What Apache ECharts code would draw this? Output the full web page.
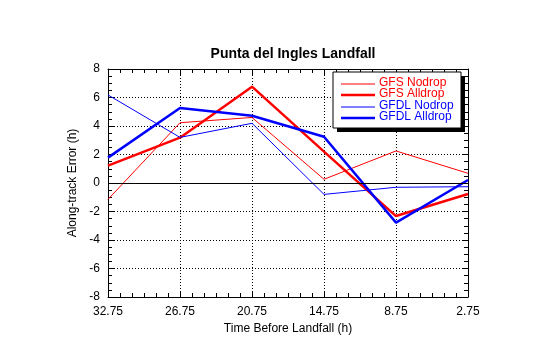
<!DOCTYPE html>
<html><head><meta charset="utf-8">
<script src="https://cdn.jsdelivr.net/npm/echarts@6/dist/echarts.min.js"></script>
<style>html,body{margin:0;padding:0;background:#fff}#c{width:540px;height:344px}</style>
</head><body><div id="c"></div>
<script>
var times = [32.75, 26.75, 20.75, 14.75, 8.75, 2.75];
var gfsNodrop = [-1.15, 4.23, 4.6, 0.26, 2.25, 0.68];
var gfsAlldrop = [1.22, 3.18, 6.76, 2.2, -2.32, -0.77];
var gfdlNodrop = [6.18, 3.2, 4.19, -0.8, -0.3, -0.26];
var gfdlAlldrop = [1.78, 5.26, 4.72, 3.25, -2.78, 0.21];
var yTicks = [-8, -6, -4, -2, 0, 2, 4, 6, 8];
var seriesNames = ['GFS Nodrop', 'GFS Alldrop', 'GFDL Nodrop', 'GFDL Alldrop'];
var START = 32.75;

function pts(vals){ return times.map(function(t,i){ return [START - t, vals[i]]; }); }
var font = 'Liberation Sans, Arial, Helvetica, sans-serif';
var chart = echarts.init(document.getElementById('c'), null, {renderer:'canvas'});

function xAx(pos, show){
  return {type:'value', position:pos, min:0, max:30, interval:6,
    axisLine:{show:true, onZero:false, lineStyle:{color:'#000', width:1}},
    axisTick:{show:true, inside:true, length:6, lineStyle:{color:'#000'}},
    minorTick:{show:true, splitNumber:6, length:4, lineStyle:{color:'#000'}},
    splitLine:{show:show, lineStyle:{color:'#000', type:[1,2], width:1}},
    axisLabel:{show:show, color:'#000', fontSize:12, fontFamily:font, margin:9,
      formatter:function(v){ return (START - v).toFixed(2); }},
    name: show ? 'Time Before Landfall (h)' : '', nameLocation:'middle', nameGap:23,
    nameTextStyle:{color:'#000', fontSize:12, fontFamily:font}
  };
}
function yAx(pos, show){
  return {type:'value', position:pos, min:yTicks[0], max:yTicks[yTicks.length-1], interval:2,
    axisLine:{show:true, onZero:false, lineStyle:{color:'#000', width:1}},
    axisTick:{show:true, inside:true, length:6, lineStyle:{color:'#000'}},
    minorTick:{show:true, splitNumber:4, length:4, lineStyle:{color:'#000'}},
    splitLine:{show:show, lineStyle:{color:'#000', type:[1,2], width:1}},
    axisLabel:{show:show, color:'#000', fontSize:12, fontFamily:font, margin:8},
    name: show ? 'Along-track Error (h)' : '', nameLocation:'middle', nameGap:26,
    nameTextStyle:{color:'#000', fontSize:12, fontFamily:font}
  };
}
var colors = ['#ff0000', '#ff0000', '#0000ff', '#0000ff'];
var widths = [1, 2.5, 1, 2.5];
var dataSets = [gfsNodrop, gfsAlldrop, gfdlNodrop, gfdlAlldrop];
var series = dataSets.map(function(vals, i){
  return {name:seriesNames[i], type:'line', data:pts(vals), symbol:'none',
    lineStyle:{color:colors[i], width:widths[i]}, itemStyle:{color:colors[i]}, animation:false};
});
series[0].markLine = {silent:true, symbol:'none', label:{show:false},
  lineStyle:{color:'#000', type:'solid', width:1}, data:[{yAxis:0}], animation:false};

// legend box drawn as graphic
var lgX = 333, lgY = 72, lgW = 128, lgH = 56, rowH = 11.3, row0 = 84;
var lgElems = [
  {type:'rect', z:100, shape:{x:lgX+4, y:lgY+4, width:lgW, height:lgH}, style:{fill:'#000'}},
  {type:'rect', z:101, shape:{x:lgX, y:lgY, width:lgW, height:lgH}, style:{fill:'#fff', stroke:'#000', lineWidth:1}}
];
seriesNames.forEach(function(n, i){
  var y = Math.round(row0 + i*rowH);
  lgElems.push({type:'line', z:102, shape:{x1:341, y1:y, x2:375, y2:y},
    style:{stroke:colors[i], lineWidth:widths[i]}});
  lgElems.push({type:'text', z:102, left:379, top:y-7,
    style:{text:n, fill:colors[i], fontSize:12, fontFamily:font}});
});

chart.setOption({
  animation:false,
  title:{text:'Punta del Ingles Landfall', left:288, top:42, textAlign:'center',
    textStyle:{color:'#000', fontSize:14, fontWeight:'bold', fontFamily:font}},
  grid:{left:108, right:72, top:69, bottom:47, containLabel:false},
  xAxis:[xAx('bottom', true), xAx('top', false)],
  yAxis:[yAx('left', true), yAx('right', false)],
  graphic:lgElems,
  series:series
});
</script></body></html>
